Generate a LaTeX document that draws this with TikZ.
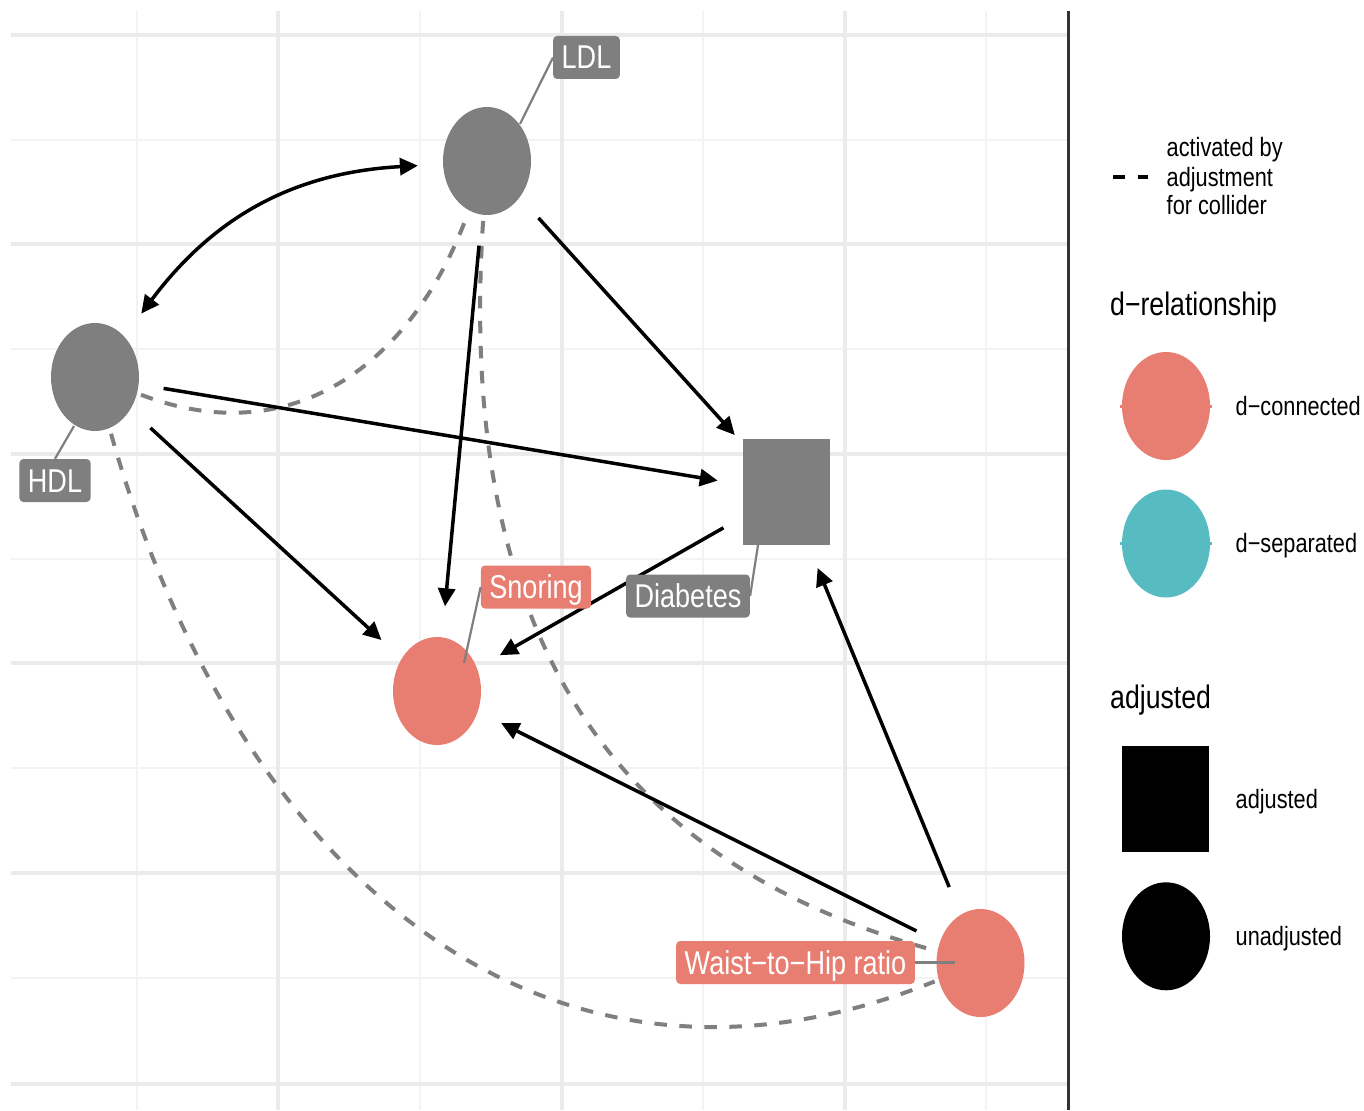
\documentclass[tikz,border=0pt]{standalone}
\usepackage{fontspec}
\setmainfont[FakeStretch=0.82]{Liberation Sans}
\usetikzlibrary{shapes.geometric,arrows.meta,calc}
\definecolor{nodegray}{HTML}{7F7F7F}
\definecolor{dred}{HTML}{E87E72}
\definecolor{dteal}{HTML}{56BCC2}
\definecolor{gridmaj}{HTML}{EBEBEB}
\definecolor{gridmin}{HTML}{F3F3F3}
\definecolor{sepcol}{HTML}{333333}
\begin{document}
\begin{tikzpicture}[x=1pt,y=-1pt,
  >={Triangle[length=18pt,width=17pt]},
  vnode/.style={ellipse,minimum width=88pt,minimum height=108pt,inner sep=0pt,draw=none},
  capsolid/.style={ellipse,minimum width=138pt,minimum height=170pt,inner sep=0pt,draw=none},
  capdash/.style={ellipse,minimum width=96pt,minimum height=120pt,inner sep=0pt,draw=none},
  edge/.style={line width=3.5pt,black,->},
  dashedge/.style={line width=4pt,nodegray,dash pattern=on 12.5pt off 12.5pt},
  lab/.style={rounded corners=4pt,text=white,font=\fontsize{33}{36}\selectfont,inner xsep=8.5pt,inner ysep=4.5pt,text height=28.5pt,text depth=5.5pt},
  seg/.style={line width=2.2pt,nodegray},
  legtext/.style={font=\fontsize{26.5}{29}\selectfont,anchor=base west,inner sep=0pt},
  legtitle/.style={font=\fontsize{32.5}{36}\selectfont,anchor=base west,inner sep=0pt}
]
\useasboundingbox (0,0) rectangle (1364,1110);
\fill[white] (0,0) rectangle (1364,1110);
% grid
\begin{scope}
\clip (11,11) rectangle (1067,1110);
\foreach \y in {140,349,559,768,978} \draw[gridmin,line width=2pt] (11,\y) -- (1067,\y);
\foreach \x in {137,420,703,986} \draw[gridmin,line width=2pt] (\x,11) -- (\x,1110);
\foreach \y in {35,244,454,663,873,1084} \draw[gridmaj,line width=4pt] (11,\y) -- (1067,\y);
\foreach \x in {278,562,845} \draw[gridmaj,line width=4pt] (\x,11) -- (\x,1110);
\end{scope}
\draw[sepcol,line width=3pt] (1068,11) -- (1068,1110);
% caps (invisible)
\node[capsolid] (Lc) at (487,161) {};
\node[capsolid] (Hc) at (95,377) {};
\node[capsolid] (Dc) at (786.3,492) {};
\node[capsolid] (Sc) at (437,691) {};
\node[capsolid] (Wc) at (980.5,963) {};
\node[capdash] (Ld) at (487,161) {};
\node[capdash] (Hd) at (95,377) {};
\node[capdash] (Wd) at (980.5,963) {};
% dashed collider paths
\draw[dashedge] (Hd) .. controls (295,454) and (414,360) .. (Ld);
\draw[dashedge] (Hd) .. controls (233.8,867.9) and (540,1140) .. (Wd);
\draw[dashedge] (Ld) .. controls (457,623) and (602,859.5) .. (Wd);
% edges
\draw[edge,<->] (Hc) to[bend left=25] (Lc);
\draw[edge] (Lc) -- (Dc);
\draw[edge] (Lc) -- (Sc);
\draw[edge] (Hc) -- (Dc);
\draw[edge] (Hc) -- (Sc);
\draw[edge] (Dc) -- (Sc);
\draw[edge] (Wc) -- (Sc);
\draw[edge] (Wc) -- (Dc);
% nodes
\node[vnode,fill=nodegray] (L) at (487,161) {};
\node[vnode,fill=nodegray] (H) at (95,377) {};
\node[rectangle,minimum width=87pt,minimum height=106pt,inner sep=0pt,fill=nodegray] (D) at (786.3,492) {};
\node[vnode,fill=dred] (S) at (437,691) {};
\node[vnode,fill=dred] (W) at (980.5,963) {};
% labels
\node[lab,fill=nodegray] (LDLlab) at (586.5,57.5) {LDL};
\node[lab,fill=nodegray] (HDLlab) at (55,480.5) {HDL};
\node[lab,fill=dred] (Snlab) at (536,587) {Snoring};
\node[lab,fill=nodegray] (Dlab) at (688,596) {Diabetes};
\node[lab,fill=dred] (Wlab) at (795.5,962.5) {Waist−to−Hip ratio};
\coordinate (ldlend) at (520,124);
\coordinate (hdlend) at (74,426);
\coordinate (snend) at (464,663);
\coordinate (dend) at (758,545);
\coordinate (wend) at (955,962.5);
\draw[seg] (LDLlab.west) -- (ldlend);
\draw[seg] (HDLlab.north) -- (hdlend);
\draw[seg] (Snlab.west) -- (snend);
\draw[seg] (Dlab.east) -- (dend);
\draw[seg,line width=3pt] (Wlab.east) -- (wend);
% legend
\coordinate (lk1) at (1113,177);
\coordinate (lk2) at (1148,177);
\draw[black,line width=4pt,dash pattern=on 11.7pt off 13pt] (lk1) -- (lk2);
\node[legtext] (act1) at (1166.5,157) {activated by};
\node[legtext] (act2) at (1166.5,186) {adjustment};
\node[legtext] (act3) at (1166.5,214.5) {for collider};
\node[legtitle] (t1) at (1110,315) {d−relationship};
\coordinate (r1) at (1120,406); \coordinate (r2) at (1212,406);
\draw[dred,line width=3pt] (r1) -- (r2);
\node[vnode,fill=dred] (k1) at (1166,406) {};
\coordinate (s1) at (1120,543.5); \coordinate (s2) at (1212,543.5);
\draw[dteal,line width=3pt] (s1) -- (s2);
\node[vnode,fill=dteal] (k2) at (1166,543.5) {};
\node[legtext] (k1t) at (1235.5,415) {d−connected};
\node[legtext] (k2t) at (1235.5,552) {d−separated};
\node[legtitle] (t2) at (1110,708) {adjusted};
\node[rectangle,fill=black,minimum width=87pt,minimum height=106.5pt,inner sep=0pt] (k3) at (1165.7,799) {};
\node[vnode,fill=black] (k4) at (1166,936.3) {};
\node[legtext] (k3t) at (1235.5,808) {adjusted};
\node[legtext] (k4t) at (1235.5,945) {unadjusted};
\end{tikzpicture}
\end{document}
